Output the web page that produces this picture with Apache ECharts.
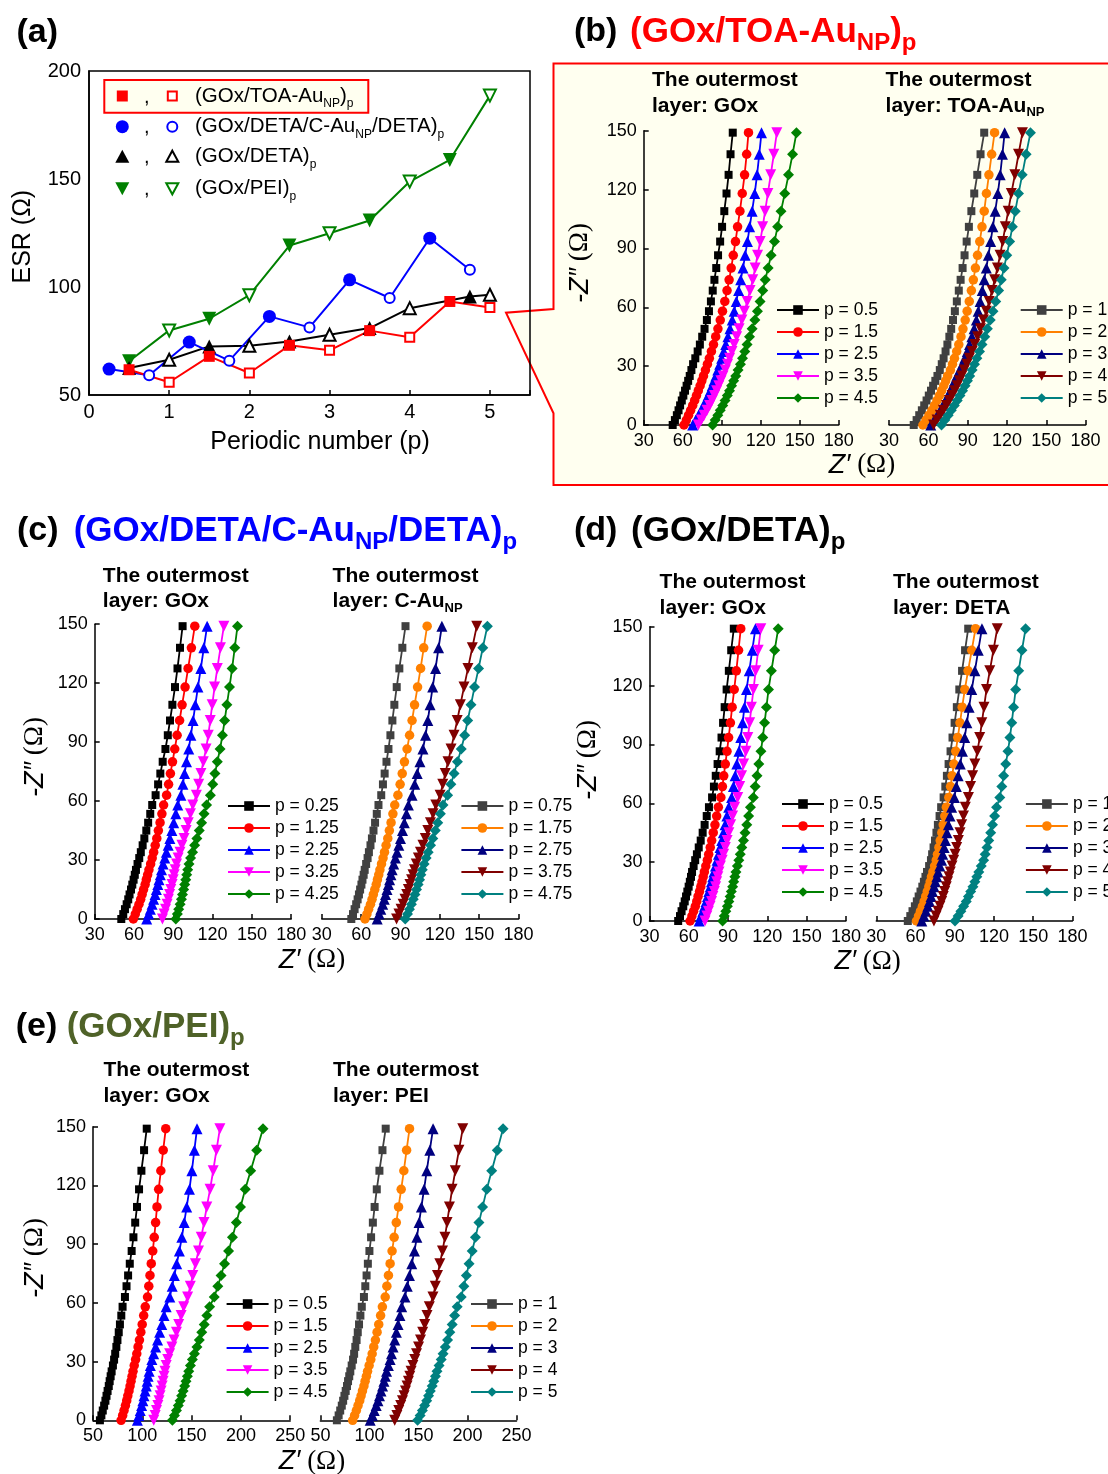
<!DOCTYPE html>
<html>
<head>
<meta charset="utf-8">
<script src="https://cdn.jsdelivr.net/npm/echarts@6/dist/echarts.min.js"></script>
<style>
html,body{margin:0;padding:0;background:#fff;}
#chart{width:1108px;height:1474px;}
</style>
</head>
<body>
<div id="chart"></div>
<script>
// ---------- (a) ESR versus periodic number ----------
const P_TOA = [0.5, 1, 1.5, 2, 2.5, 3, 3.5, 4, 4.5, 5];
const ESR_TOA = [61.7, 55.9, 67.9, 60.2, 73.0, 70.7, 79.8, 76.7, 93.3, 90.5];
const P_CAU = [0.25, 0.75, 1.25, 1.75, 2.25, 2.75, 3.25, 3.75, 4.25, 4.75];
const ESR_CAU = [62.0, 59.1, 74.5, 65.9, 86.4, 81.3, 103.3, 94.9, 122.6, 108.0];
const P_DETA = [0.5, 1, 1.5, 2, 2.5, 3, 3.5, 4, 4.75, 5];
const ESR_DETA = [62.5, 66.3, 72.5, 72.8, 74.8, 77.9, 81.0, 90.2, 95.6, 96.4];
const P_PEI = [0.5, 1, 1.5, 2, 2.5, 3, 3.5, 4, 4.5, 5];
const ESR_PEI = [65.6, 79.9, 85.3, 96.2, 119.2, 124.9, 130.8, 148.8, 158.8, 188.6];

// ---------- Nyquist plots: -Z'' sampling levels shared by every trace ----------
const ZIM = [0, 2.5, 5, 7.5, 10, 12.5, 15, 17.5, 20, 22.5, 25, 28, 31, 34, 37.5, 41, 45, 49, 53.5, 58,
             63, 68.5, 74, 80, 86.5, 93.5, 101, 109, 118, 127.5, 138, 149, 161];

const LBL_HALF = ['p = 0.5', 'p = 1.5', 'p = 2.5', 'p = 3.5', 'p = 4.5'];
const LBL_INT = ['p = 1', 'p = 2', 'p = 3', 'p = 4', 'p = 5'];
const LBL_QTR = ['p = 0.25', 'p = 1.25', 'p = 2.25', 'p = 3.25', 'p = 4.25'];
const LBL_3QTR = ['p = 0.75', 'p = 1.75', 'p = 2.75', 'p = 3.75', 'p = 4.75'];

// Z' values (ohm) at each ZIM level
const B_GOX = [
  [52.3,54.0,55.5,56.8,58.0,59.3,60.5,61.8,63.0,64.2,65.4,66.7,68.0,69.7,71.5,73.2,75.0,76.8,78.6,80.2,81.7,83.1,84.4,85.8,87.2,88.8,90.3,92.0,93.7,95.3,96.8,98.5,100.2],
  [61.0,62.8,64.5,66.1,67.7,69.2,70.6,72.0,73.4,74.7,76.0,77.5,79.0,80.5,82.1,83.7,85.4,87.1,88.9,90.6,92.4,94.1,95.7,97.3,98.9,100.6,102.2,104.0,105.8,107.6,109.2,110.6,112.0],
  [67.7,70.0,72.2,74.2,76.1,77.9,79.6,81.2,82.7,84.1,85.5,87.0,88.5,90.0,91.6,93.1,94.8,96.4,98.1,99.6,101.2,103.0,104.6,106.4,108.0,109.8,111.5,113.4,115.4,117.2,118.9,120.6,122.3],
  [72.0,74.3,76.5,78.7,80.7,82.6,84.4,86.1,87.8,89.4,91.0,92.8,94.5,96.1,97.9,99.6,101.5,103.4,105.5,107.5,109.6,111.8,113.9,115.7,117.6,119.6,121.5,123.4,125.5,127.7,130.1,132.4,134.6],
  [83.0,85.0,87.0,88.9,90.8,92.6,94.3,96.0,97.6,99.2,100.8,102.6,104.4,106.0,107.8,109.5,111.4,113.4,115.5,117.5,119.5,121.6,123.5,125.7,128.0,130.6,133.0,135.6,138.5,141.4,144.5,147.5,150.5]
];
const B_TOA = [
  [48.8,51.0,53.0,55.0,56.8,58.6,60.3,62.0,63.6,65.3,66.9,68.7,70.2,71.6,73.1,74.5,76.0,77.4,78.8,80.2,81.7,83.2,84.6,86.1,87.6,89.2,90.9,92.8,95.0,97.3,99.8,102.6,105.3],
  [55.8,58.2,60.5,62.7,64.7,66.6,68.4,70.1,71.7,73.2,74.7,76.8,78.4,79.9,81.6,83.2,84.9,86.4,88.1,89.6,91.2,92.8,94.3,95.9,97.5,99.2,100.9,102.6,104.3,106.2,108.3,110.5,112.8],
  [61.8,64.3,66.7,69.0,71.1,73.1,75.0,76.8,78.5,80.1,81.7,84.0,86.0,87.8,89.7,91.4,93.2,94.9,96.6,98.0,99.5,101.1,102.6,104.2,105.8,107.5,109.2,111.0,113.0,114.8,116.5,118.2,120.0],
  [64.0,66.6,69.1,71.5,73.8,76.0,78.1,80.1,82.0,83.8,85.5,87.4,89.4,91.3,93.4,95.4,97.6,99.7,102.0,104.2,106.4,108.6,110.6,112.7,114.7,116.7,118.7,120.9,123.3,126.0,128.8,131.8,135.0],
  [70.0,72.6,75.1,77.5,79.8,82.0,84.1,86.1,88.0,89.8,91.5,93.4,95.2,97.0,99.0,100.9,103.0,105.0,107.2,109.3,111.4,113.6,115.6,117.7,119.8,122.0,124.1,126.3,128.8,131.6,134.6,137.9,141.2]
];
const C_GOX = [
  [50.3,51.8,53.1,54.4,55.6,56.6,57.7,58.7,59.7,60.6,61.5,62.7,64.0,65.2,66.6,67.9,69.4,70.8,72.4,73.9,76.5,78.4,80.1,81.9,84.0,85.8,87.5,89.3,91.3,93.2,95.1,97.1,99.3],
  [59.5,61.0,62.4,63.8,65.1,66.2,67.3,68.5,69.4,70.4,71.4,72.7,73.9,75.0,76.2,77.4,78.6,79.9,81.3,82.6,84.9,86.4,87.8,89.4,91.1,92.9,94.8,96.7,99.0,101.3,103.8,106.4,109.0],
  [69.7,71.2,72.5,73.8,75.0,76.1,77.1,78.2,79.1,80.1,81.0,82.2,83.5,84.7,86.1,87.4,88.9,90.3,91.9,93.4,95.8,97.3,98.6,100.1,101.8,103.4,105.1,106.8,108.8,111.0,113.3,115.8,118.3],
  [81.7,83.0,84.1,85.3,86.3,87.2,88.1,89.1,89.9,90.7,91.5,92.5,93.7,95.1,96.6,98.2,99.8,101.4,103.1,104.9,107.6,109.4,111.1,112.9,115.0,116.7,118.2,119.7,121.5,123.6,126.0,128.6,131.2],
  [91.9,93.1,94.1,95.2,96.2,97.0,97.9,98.7,99.5,100.2,101.0,102.0,103.2,104.7,106.3,108.0,109.8,111.6,113.5,115.4,118.3,120.1,121.8,123.6,125.7,127.5,129.2,130.9,132.9,134.9,136.9,139.0,141.3]
];
const C_CAU = [
  [52.5,53.8,55.0,56.2,57.3,58.3,59.2,60.2,61.0,61.9,62.7,63.8,64.9,65.9,67.1,68.2,69.4,70.6,71.9,73.2,75.3,76.6,77.9,79.3,80.8,82.3,83.8,85.3,87.1,89.1,91.4,93.8,96.2],
  [62.9,64.4,65.7,67.1,68.3,69.3,70.4,71.5,72.4,73.4,74.3,75.5,76.7,77.8,79.0,80.3,81.5,82.8,84.2,85.6,88.0,89.7,91.3,93.0,95.0,96.9,98.8,100.7,103.0,105.3,107.7,110.3,112.9],
  [72.2,73.7,75.0,76.4,77.6,78.6,79.7,80.8,81.7,82.7,83.6,84.8,86.1,87.3,88.7,90.0,91.5,92.9,94.5,96.0,98.8,100.8,102.7,104.8,107.1,109.1,110.8,112.5,114.5,116.7,119.0,121.5,124.0],
  [87.0,88.8,90.4,92.0,93.4,94.7,96.0,97.2,98.4,99.5,100.6,102.0,103.6,105.2,107.1,108.9,110.8,112.8,114.8,116.9,120.2,122.2,124.1,126.2,128.5,130.8,133.2,135.6,138.4,141.4,144.7,148.1,151.5],
  [93.6,95.3,96.8,98.3,99.7,101.0,102.2,103.4,104.5,105.5,106.6,108.0,109.5,111.1,112.9,114.6,116.5,118.4,120.4,122.4,125.9,128.4,130.8,133.4,136.3,138.9,141.2,143.7,146.4,149.5,152.7,156.2,159.6]
];
const D_GOX = [
  [51.9,53.3,54.5,55.8,56.9,57.9,58.9,59.9,60.8,61.7,62.5,63.7,64.9,66.2,67.6,69.1,70.6,72.1,73.7,75.4,77.8,79.2,80.6,82.0,83.6,85.0,86.2,87.4,88.9,90.6,92.4,94.4,96.4],
  [61.0,62.4,63.7,65.0,66.1,67.1,68.2,69.2,70.1,71.0,71.9,73.0,74.2,75.2,76.4,77.5,78.7,80.0,81.3,82.6,84.5,85.7,86.7,87.9,89.2,90.4,91.8,93.1,94.7,96.3,98.0,99.7,101.5],
  [67.9,69.4,70.7,72.0,73.2,74.3,75.3,76.4,77.3,78.3,79.2,80.4,81.6,82.7,83.9,85.2,86.4,87.7,89.1,90.5,92.7,94.1,95.4,96.7,98.3,99.7,101.1,102.5,104.1,106.2,108.5,110.9,113.3],
  [72.4,73.8,75.0,76.3,77.4,78.4,79.5,80.5,81.3,82.2,83.1,84.2,85.5,86.6,87.9,89.3,90.6,92.0,93.5,95.0,97.4,98.9,100.3,101.9,103.6,105.1,106.5,107.8,109.4,111.1,113.0,115.0,117.0],
  [85.8,87.1,88.3,89.5,90.6,91.6,92.5,93.5,94.3,95.2,96.0,97.1,98.2,99.3,100.5,101.8,103.0,104.3,105.7,107.1,109.3,110.7,112.1,113.5,115.1,116.5,117.9,119.3,120.9,123.1,125.6,128.3,130.9]
];
const D_DETA = [
  [54.1,56.0,57.7,59.5,61.0,62.4,63.8,65.2,66.4,67.6,68.8,70.4,71.8,72.7,73.8,74.9,76.0,77.1,78.4,79.6,81.5,82.8,84.0,85.3,86.8,88.3,89.9,91.6,93.5,95.6,97.9,100.3,102.7],
  [60.7,62.3,63.8,65.3,66.6,67.8,69.0,70.2,71.2,72.2,73.3,74.6,75.9,76.8,77.9,78.9,80.1,81.2,82.4,83.6,85.5,86.8,88.0,89.3,90.8,92.3,94.0,95.7,97.7,100.2,103.0,105.9,108.8],
  [64.8,66.4,67.9,69.4,70.7,71.9,73.0,74.2,75.2,76.3,77.3,78.6,79.9,80.8,81.9,82.9,84.1,85.2,86.4,87.6,89.7,91.2,92.6,94.2,95.9,97.6,99.3,101.0,103.0,105.4,108.0,110.8,113.6],
  [74.1,75.7,77.2,78.7,80.0,81.2,82.3,83.5,84.5,85.6,86.6,87.9,89.2,90.3,91.5,92.8,94.0,95.3,96.7,98.1,100.5,102.1,103.7,105.4,107.3,109.1,110.7,112.4,114.3,116.8,119.6,122.5,125.5],
  [90.2,92.6,94.7,96.8,98.8,100.5,102.2,103.9,105.4,106.9,108.4,110.3,112.1,113.3,114.7,116.0,117.5,118.9,120.5,122.0,124.5,126.0,127.4,129.0,130.7,132.2,133.6,135.0,136.6,138.9,141.4,144.2,146.9]
];
const E_GOX = [
  [57.0,58.5,59.9,61.3,62.6,63.7,64.8,66.0,66.9,67.9,68.9,70.2,71.4,72.5,73.7,74.8,76.1,77.3,78.7,80.0,82.4,84.0,85.6,87.3,89.2,91.0,92.8,94.6,96.7,99.1,101.8,104.5,107.3],
  [78.5,80.1,81.5,82.9,84.2,85.3,86.5,87.6,88.6,89.6,90.6,91.8,93.2,94.4,95.7,97.1,98.5,99.9,101.4,103.0,105.3,106.6,107.8,109.1,110.6,112.1,113.5,114.9,116.6,118.8,121.2,123.8,126.4],
  [95.0,96.5,97.9,99.3,100.6,101.7,102.8,104.0,104.9,105.9,106.9,108.2,109.7,111.5,113.5,115.5,117.6,119.7,122.0,124.2,127.9,130.3,132.5,134.9,137.6,140.1,142.5,145.0,147.8,150.3,152.8,155.5,158.2],
  [111.6,113.1,114.4,115.8,117.0,118.0,119.1,120.2,121.1,122.1,123.0,124.2,125.8,127.7,130.0,132.2,134.6,136.9,139.4,142.0,146.0,148.7,151.2,153.9,157.0,159.8,162.6,165.4,168.7,171.9,175.2,178.7,182.2],
  [130.5,132.6,134.6,136.5,138.3,139.9,141.4,143.0,144.3,145.7,147.1,148.8,150.8,152.9,155.4,157.8,160.3,162.8,165.5,168.3,173.0,176.6,179.9,183.4,187.5,191.4,195.4,199.6,204.4,209.9,216.0,222.4,228.9]
];
const E_PEI = [
  [66.8,68.6,70.2,71.8,73.2,74.5,75.8,77.1,78.2,79.4,80.5,81.9,83.3,84.4,85.6,86.9,88.1,89.4,90.8,92.2,94.4,95.8,97.1,98.4,100.0,101.7,103.5,105.3,107.5,110.2,113.3,116.6,119.9],
  [82.9,84.9,86.7,88.4,90.1,91.5,92.9,94.4,95.6,96.9,98.1,99.7,101.4,102.8,104.4,106.1,107.8,109.5,111.4,113.2,116.1,117.8,119.4,121.1,123.1,125.2,127.4,129.7,132.4,135.1,137.9,140.9,143.9],
  [100.8,103.0,104.9,106.9,108.7,110.3,111.8,113.4,114.8,116.2,117.5,119.3,121.1,122.5,124.1,125.8,127.5,129.2,131.1,132.9,136.2,138.6,140.8,143.2,145.9,148.4,150.6,153.0,155.7,158.5,161.6,164.9,168.2],
  [125.8,128.0,129.9,131.9,133.7,135.3,136.8,138.4,139.8,141.2,142.5,144.3,146.2,148.0,150.1,152.1,154.3,156.4,158.7,161.1,164.8,167.2,169.4,171.8,174.5,177.0,179.2,181.6,184.3,187.6,191.3,195.2,199.2],
  [149.1,151.7,154.0,156.3,158.4,160.3,162.1,164.0,165.6,167.3,168.9,171.0,173.2,175.1,177.4,179.7,182.0,184.4,186.9,189.5,193.6,196.3,198.9,201.6,204.8,208.1,211.7,215.4,219.7,224.7,230.4,236.3,242.8]
];

// ---------- styling ----------
const SANS = "'Liberation Sans', Arial, Helvetica, sans-serif";
const SERIF = "'Liberation Serif', 'Times New Roman', serif";
const font = (size, weight, family, style) =>
  (style ? style + ' ' : '') + (weight ? weight + ' ' : '') + size + 'px ' + (family || SANS);

const GOX_STYLE = [
  {color: '#000000', symbol: 'rect', size: 8},
  {color: '#ff0000', symbol: 'circle', size: 9.5},
  {color: '#0000ff', symbol: 'triangle', size: 11},
  {color: '#ff00ff', symbol: 'triangle', size: 11, rotate: 180},
  {color: '#008000', symbol: 'diamond', size: 11}
];
const OUTER_STYLE = [
  {color: '#404040', symbol: 'rect', size: 8},
  {color: '#ff8000', symbol: 'circle', size: 9.5},
  {color: '#000080', symbol: 'triangle', size: 11},
  {color: '#800000', symbol: 'triangle', size: 11, rotate: 180},
  {color: '#008080', symbol: 'diamond', size: 11}
];

const PANELS = [
  {id: 'b1', box: [643.7, 130.7, 195.0, 294.3], x: [30, 180, 30], values: B_GOX, labels: LBL_HALF, styles: GOX_STYLE, yAxis: true, legend: [776, 310]},
  {id: 'b2', box: [889.1, 130.7, 196.5, 294.3], x: [30, 180, 30], values: B_TOA, labels: LBL_INT, styles: OUTER_STYLE, yAxis: false, legend: [1019.7, 310]},
  {id: 'c1', box: [94.7, 624.2, 196.5, 294.8], x: [30, 180, 30], values: C_GOX, labels: LBL_QTR, styles: GOX_STYLE, yAxis: true, legend: [227, 806]},
  {id: 'c2', box: [321.8, 624.2, 196.8, 294.8], x: [30, 180, 30], values: C_CAU, labels: LBL_3QTR, styles: OUTER_STYLE, yAxis: false, legend: [460.4, 806]},
  {id: 'd1', box: [649.5, 626.7, 196.4, 294.3], x: [30, 180, 30], values: D_GOX, labels: LBL_HALF, styles: GOX_STYLE, yAxis: true, legend: [781, 804]},
  {id: 'd2', box: [876.3, 626.7, 196.1, 294.3], x: [30, 180, 30], values: D_DETA, labels: LBL_INT, styles: OUTER_STYLE, yAxis: false, legend: [1024.9, 804]},
  {id: 'e1', box: [93.0, 1126.7, 197.2, 293.6], x: [50, 250, 50], values: E_GOX, labels: LBL_HALF, styles: GOX_STYLE, yAxis: true, legend: [225.6, 1304]},
  {id: 'e2', box: [320.4, 1126.7, 196.1, 293.6], x: [50, 250, 50], values: E_PEI, labels: LBL_INT, styles: OUTER_STYLE, yAxis: false, legend: [470, 1304]}
];

const AXIS_LINE = {show: true, onZero: false, lineStyle: {color: '#000', width: 1.5}};
const AXIS_TICK = {show: true, inside: true, length: 5, lineStyle: {color: '#000', width: 1.5}};

const grids = [], xAxes = [], yAxes = [], series = [], legends = [], graphics = [];

// ---- (a) grid ----
grids.push({left: 89, top: 71, width: 441, height: 324, show: true, borderColor: '#000', borderWidth: 1.5,
  backgroundColor: 'transparent', containLabel: false, outerBoundsMode: 'none'});
xAxes.push({gridIndex: 0, type: 'value', min: 0, max: 5.5, interval: 1,
  axisLine: AXIS_LINE, axisTick: AXIS_TICK, splitLine: {show: false},
  axisLabel: {color: '#000', fontSize: 20, fontFamily: SANS, margin: 7,
    formatter: v => (Number.isInteger(v) ? String(v) : '')}});
yAxes.push({gridIndex: 0, type: 'value', min: 50, max: 200, interval: 50,
  axisLine: AXIS_LINE, axisTick: {show: false}, splitLine: {show: false},
  axisLabel: {color: '#000', fontSize: 20, fontFamily: SANS, margin: 8}});

const ESR_SETS = [
  {p: P_PEI, v: ESR_PEI, color: '#008000', symbol: 'triangle', rotate: 180, size: 14, open: 12},
  {p: P_DETA, v: ESR_DETA, color: '#000000', symbol: 'triangle', rotate: 0, size: 14, open: 12},
  {p: P_CAU, v: ESR_CAU, color: '#0000ff', symbol: 'circle', rotate: 0, size: 13, open: 10},
  {p: P_TOA, v: ESR_TOA, color: '#ff0000', symbol: 'rect', rotate: 0, size: 11, open: 9}
];
ESR_SETS.forEach(s => {
  series.push({
    type: 'line', xAxisIndex: 0, yAxisIndex: 0, silent: true, animation: false,
    symbol: s.symbol, symbolRotate: s.rotate, symbolSize: s.size,
    lineStyle: {color: s.color, width: 2}, itemStyle: {color: s.color},
    data: s.p.map((p, i) => (i % 2 === 0)
      ? {value: [p, s.v[i]]}
      : {value: [p, s.v[i]], symbolSize: s.open,
         itemStyle: {color: '#ffffff', borderColor: s.color, borderWidth: 2}})
  });
});

// ---- Nyquist panels ----
PANELS.forEach(pn => {
  const gi = grids.length;
  grids.push({left: pn.box[0], top: pn.box[1], width: pn.box[2], height: pn.box[3],
    containLabel: false, outerBoundsMode: 'none'});
  xAxes.push({gridIndex: gi, type: 'value', min: pn.x[0], max: pn.x[1], interval: pn.x[2],
    axisLine: AXIS_LINE, axisTick: AXIS_TICK, splitLine: {show: false},
    axisLabel: {color: '#000', fontSize: 18, fontFamily: SANS, margin: 7}});
  yAxes.push({gridIndex: gi, type: 'value', min: 0, max: 150, interval: 30, show: pn.yAxis,
    axisLine: AXIS_LINE, axisTick: AXIS_TICK, splitLine: {show: false},
    axisLabel: {color: '#000', fontSize: 18, fontFamily: SANS, margin: 7}});
  const names = [];
  pn.values.forEach((zre, j) => {
    if (zre.length !== ZIM.length) console.warn('length mismatch', pn.id, j);
    const st = pn.styles[j];
    const name = pn.id + '|' + pn.labels[j];
    names.push(name);
    series.push({
      type: 'line', name, xAxisIndex: gi, yAxisIndex: gi, silent: true, animation: false, clip: true,
      symbol: st.symbol, symbolRotate: st.rotate || 0, symbolSize: st.size,
      lineStyle: {color: st.color, width: 1.8}, itemStyle: {color: st.color},
      data: ZIM.map((z, i) => [zre[i], z])
    });
  });
  legends.push({
    orient: 'vertical', left: pn.legend[0], top: pn.legend[1] - 11, padding: 0, itemGap: 0,
    itemWidth: 42, itemHeight: 12, selectedMode: false, data: names,
    formatter: n => n.split('|')[1], lineStyle: {width: 2},
    textStyle: {color: '#000', fontSize: 17.5, fontFamily: SANS, lineHeight: 22}
  });
});

// ---------- text helpers ----------
function txt(x, y, text, opt) {
  opt = opt || {};
  return {
    type: 'text', x, y, rotation: opt.rot || 0, z: 60, silent: true,
    style: {
      x: 0, y: 0, text, rich: opt.rich, font: opt.font || font(20), fill: opt.fill || '#000',
      align: opt.align || 'left', textAlign: opt.align || 'left',
      verticalAlign: 'middle', textVerticalAlign: 'middle'
    }
  };
}
function subRich(size, subSize, weight, color, lh) {
  return {
    m: {font: font(size, weight), fontSize: size, fontWeight: weight || 'normal', fontFamily: SANS, fill: color,
        lineHeight: lh, verticalAlign: 'middle'},
    s: {font: font(subSize, weight), fontSize: subSize, fontWeight: weight || 'normal', fontFamily: SANS, fill: color,
        verticalAlign: 'bottom'}
  };
}
const AXIS_RICH = {
  i: {font: font(27, null, SANS, 'italic'), fill: '#000'},
  r: {font: font(27, null, SERIF), fill: '#000'}
};

// ---------- (b) highlight box with callout ----------
graphics.push({
  type: 'polygon', z: -10, silent: true,
  shape: {points: [[553.5, 63.5], [1115, 63.5], [1115, 485], [553.5, 485], [553.5, 413.3], [506, 312.7], [553.5, 309]]},
  style: {fill: '#fffff0', stroke: '#ff0000', lineWidth: 2}
});

// ---------- (a) legend ----------
graphics.push({type: 'rect', z: 5, silent: true, shape: {x: 104.3, y: 80, width: 264, height: 32.7},
  style: {fill: '#fffff0', stroke: '#ff0000', lineWidth: 2}});
const LEG_Y = [96, 126.7, 156.7, 188.3];
const FX = 122.3, OX = 172.3;
graphics.push({type: 'rect', z: 20, silent: true, shape: {x: FX - 5.5, y: LEG_Y[0] - 5.5, width: 11, height: 11}, style: {fill: '#ff0000'}});
graphics.push({type: 'rect', z: 20, silent: true, shape: {x: OX - 4.5, y: LEG_Y[0] - 4.5, width: 9, height: 9}, style: {fill: '#ffffff', stroke: '#ff0000', lineWidth: 2}});
graphics.push({type: 'circle', z: 20, silent: true, shape: {cx: FX, cy: LEG_Y[1], r: 6.5}, style: {fill: '#0000ff'}});
graphics.push({type: 'circle', z: 20, silent: true, shape: {cx: OX, cy: LEG_Y[1], r: 5}, style: {fill: '#ffffff', stroke: '#0000ff', lineWidth: 2}});
graphics.push({type: 'polygon', z: 20, silent: true, shape: {points: [[FX, LEG_Y[2] - 7], [FX + 7, LEG_Y[2] + 6], [FX - 7, LEG_Y[2] + 6]]}, style: {fill: '#000000'}});
graphics.push({type: 'polygon', z: 20, silent: true, shape: {points: [[OX, LEG_Y[2] - 6], [OX + 6, LEG_Y[2] + 5], [OX - 6, LEG_Y[2] + 5]]}, style: {fill: '#ffffff', stroke: '#000000', lineWidth: 2}});
graphics.push({type: 'polygon', z: 20, silent: true, shape: {points: [[FX - 7, LEG_Y[3] - 6], [FX + 7, LEG_Y[3] - 6], [FX, LEG_Y[3] + 7]]}, style: {fill: '#008000'}});
graphics.push({type: 'polygon', z: 20, silent: true, shape: {points: [[OX - 6, LEG_Y[3] - 5], [OX + 6, LEG_Y[3] - 5], [OX, LEG_Y[3] + 6]]}, style: {fill: '#ffffff', stroke: '#008000', lineWidth: 2}});
LEG_Y.forEach(y => graphics.push(txt(146.7, y + 1, ',', {font: font(20), align: 'center'})));
const LEG_RICH = subRich(20.5, 12, null, '#000', 28);
graphics.push(txt(195, LEG_Y[0], '{m|(GOx/TOA-Au}{s|NP}{m|)}{s|p}', {rich: LEG_RICH}));
graphics.push(txt(195, LEG_Y[1], '{m|(GOx/DETA/C-Au}{s|NP}{m|/DETA)}{s|p}', {rich: LEG_RICH}));
graphics.push(txt(195, LEG_Y[2], '{m|(GOx/DETA)}{s|p}', {rich: LEG_RICH}));
graphics.push(txt(195, LEG_Y[3], '{m|(GOx/PEI)}{s|p}', {rich: LEG_RICH}));

// (a) axis titles
graphics.push(txt(23.4, 236.7, 'ESR (\u03A9)', {font: font(25), align: 'center', rot: Math.PI / 2}));
graphics.push(txt(320, 441.7, 'Periodic number (p)', {font: font(25), align: 'center'}));

// ---------- panel titles ----------
graphics.push(txt(16.5, 33, '(a)', {font: font(34, 'bold')}));
graphics.push(txt(574, 32, '(b)', {font: font(34, 'bold')}));
graphics.push(txt(630, 32, '{m|(GOx/TOA-Au}{s|NP}{m|)}{s|p}', {rich: subRich(35, 24, 'bold', '#ff0000', 46)}));
graphics.push(txt(17, 531, '(c)', {font: font(34, 'bold')}));
graphics.push(txt(73.7, 531, '{m|(GOx/DETA/C-Au}{s|NP}{m|/DETA)}{s|p}', {rich: subRich(35, 24, 'bold', '#0000ff', 46)}));
graphics.push(txt(574, 531, '(d)', {font: font(34, 'bold')}));
graphics.push(txt(631, 531, '{m|(GOx/DETA)}{s|p}', {rich: subRich(35, 24, 'bold', '#000000', 46)}));
graphics.push(txt(15.8, 1027, '(e)', {font: font(34, 'bold')}));
graphics.push(txt(66.7, 1027, '{m|(GOx/PEI)}{s|p}', {rich: subRich(35, 24, 'bold', '#4f6228', 46)}));

// ---------- sub-plot headings ----------
const HEAD_RICH = subRich(21, 13, 'bold', '#000', 26);
function heading(x, y1, y2, second) {
  graphics.push(txt(x, y1, 'The outermost', {font: font(21, 'bold')}));
  graphics.push(txt(x, y2, second, {rich: HEAD_RICH}));
}
heading(652, 80, 106, '{m|layer: GOx}');
heading(885.6, 80, 106, '{m|layer: TOA-Au}{s|NP}');
heading(102.8, 576, 601.5, '{m|layer: GOx}');
heading(332.6, 576, 601.5, '{m|layer: C-Au}{s|NP}');
heading(659.6, 582.7, 608.3, '{m|layer: GOx}');
heading(893, 582.7, 608.3, '{m|layer: DETA}');
heading(103.5, 1070, 1096, '{m|layer: GOx}');
heading(333, 1070, 1096, '{m|layer: PEI}');

// ---------- impedance axis titles ----------
const YT = '{i|-Z\u2033}{r| (\u03A9)}';
const XT = '{i|Z\u2032}{r| (\u03A9)}';
[[580, 263], [35, 757], [588, 760], [35, 1258]].forEach(p =>
  graphics.push(txt(p[0], p[1], YT, {rich: AXIS_RICH, align: 'center', rot: Math.PI / 2})));
[[862, 465], [312, 960], [867.6, 961.7], [312, 1461.7]].forEach(p =>
  graphics.push(txt(p[0], p[1], XT, {rich: AXIS_RICH, align: 'center'})));

const chart = echarts.init(document.getElementById('chart'), null, {renderer: 'canvas', width: 1108, height: 1474});
chart.setOption({
  animation: false,
  backgroundColor: '#ffffff',
  grid: grids,
  xAxis: xAxes,
  yAxis: yAxes,
  legend: legends,
  series: series,
  graphic: {elements: graphics}
});
</script>
</body>
</html>
